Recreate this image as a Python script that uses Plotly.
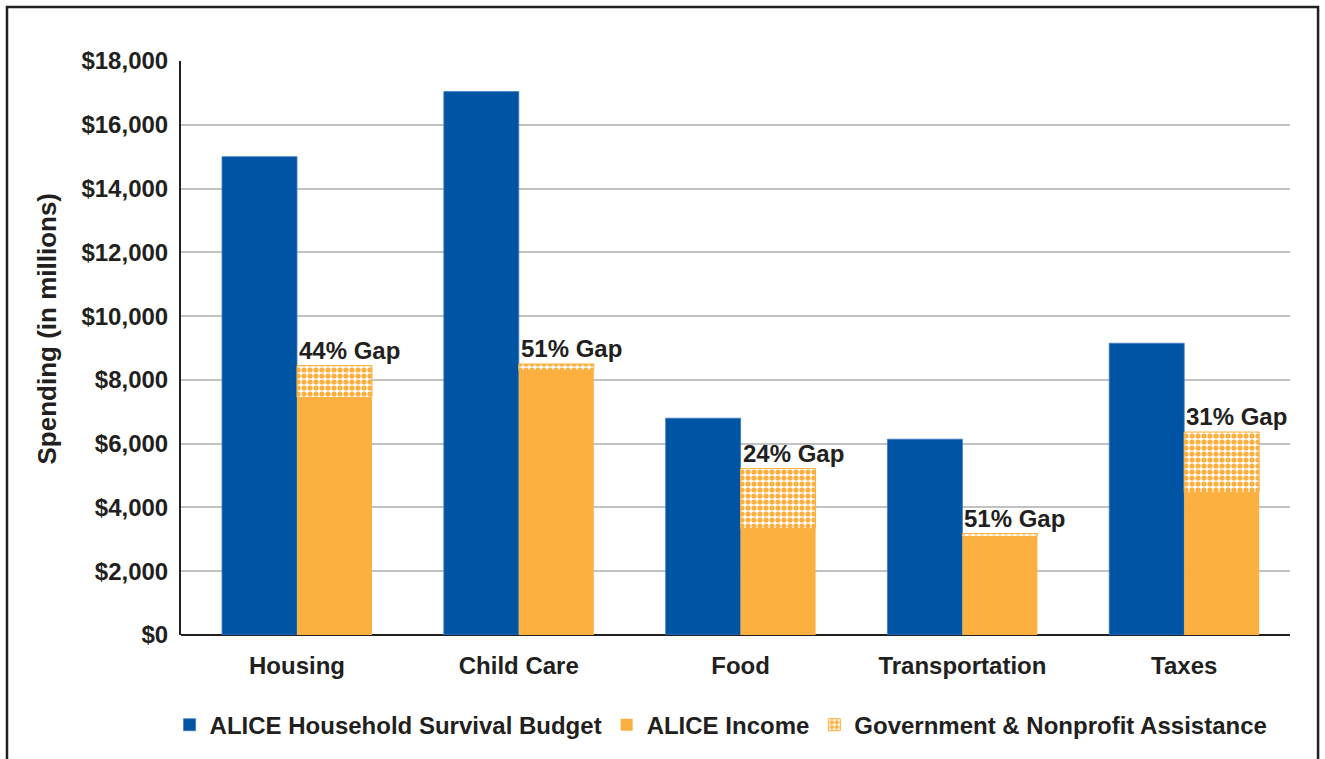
import plotly.graph_objects as go

# Spending categories and values (in millions of dollars)
categories = ["Housing", "Child Care", "Food", "Transportation", "Taxes"]
survival_budget = [15000, 17040, 6800, 6140, 9150]
alice_income = [7450, 8300, 3340, 3090, 4470]
assistance = [1000, 200, 1880, 90, 1895]
gap_labels = ["44% Gap", "51% Gap", "24% Gap", "51% Gap", "31% Gap"]
y_ticks = [0, 2000, 4000, 6000, 8000, 10000, 12000, 14000, 16000, 18000]

BLUE = "#0054a4"
ORANGE = "#fbb040"
TEXT = "#231f20"
FONT = "Liberation Sans, Arial, sans-serif"

fig = go.Figure()

fig.add_trace(go.Bar(
    x=categories, y=survival_budget, name="ALICE Household Survival Budget",
    offsetgroup="budget", marker=dict(color=BLUE, line=dict(color="#3f7cc2", width=0.8)),
))
fig.add_trace(go.Bar(
    x=categories, y=alice_income, name="ALICE Income",
    offsetgroup="resources", marker=dict(color=ORANGE, line=dict(width=0)),
))
fig.add_trace(go.Bar(
    x=categories, y=assistance, base=alice_income,
    name="Government & Nonprofit Assistance", offsetgroup="resources",
    marker=dict(
        color="white",
        line=dict(color=ORANGE, width=1),
        pattern=dict(shape=".", fgcolor=ORANGE, bgcolor="white",
                     size=6, solidity=0.6, fillmode="replace"),
    ),
))

# Gap labels sit just above the income + assistance stack
for i, (inc, ast, lbl) in enumerate(zip(alice_income, assistance, gap_labels)):
    fig.add_annotation(
        x=i, y=inc + ast, xref="x", yref="y", text=lbl,
        showarrow=False, xanchor="left", yanchor="bottom", xshift=0, yshift=0,
        font=dict(family=FONT, size=24, color=TEXT, weight="bold"),
    )

# Vertical axis title
fig.add_annotation(
    x=-0.1208, y=0.534, xref="paper", yref="paper", text="Spending (in millions)",
    textangle=-90, showarrow=False, xanchor="center", yanchor="middle",
    font=dict(family=FONT, size=26, color=TEXT, weight="bold"),
)

# Outer frame around the whole graphic
fig.add_shape(
    type="rect", xref="paper", yref="paper",
    x0=-0.1569, x1=1.0253, y0=-0.25, y1=1.0939,
    line=dict(color=TEXT, width=2.5), fillcolor="rgba(0,0,0,0)", layer="below",
)

fig.update_layout(
    width=1325, height=759,
    margin=dict(l=181, r=35, t=61, b=123),
    paper_bgcolor="white", plot_bgcolor="white",
    barmode="group", bargap=0.324, bargroupgap=0,
    font=dict(family=FONT, size=24, color=TEXT),
    showlegend=True,
    legend=dict(
        orientation="h", x=0.487, xanchor="center", y=-0.155, yanchor="middle",
        font=dict(family=FONT, size=24, color=TEXT, weight="bold"), traceorder="normal",
        itemwidth=30, tracegroupgap=0,
    ),
    xaxis=dict(
        type="category", range=[-0.523, 4.477], showgrid=False, showline=False,
        ticks="", ticklabelstandoff=14,
        tickfont=dict(family=FONT, size=24, color=TEXT, weight="bold"),
    ),
    yaxis=dict(
        range=[0, 18000], tickvals=y_ticks,
        ticktext=[f"${v:,}" for v in y_ticks],
        showgrid=True, gridcolor="#c2c2c2", gridwidth=2,
        showline=True, linecolor=TEXT, linewidth=2,
        zeroline=True, zerolinecolor=TEXT, zerolinewidth=2,
        ticks="", ticklabelstandoff=6,
        tickfont=dict(family=FONT, size=24, color=TEXT, weight="bold"),
    ),
)

fig.write_html("out.html")
